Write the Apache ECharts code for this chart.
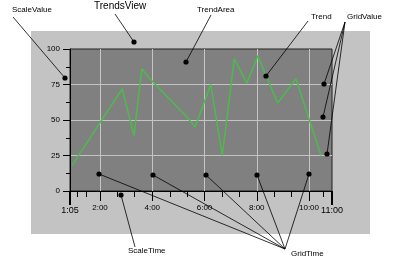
<!DOCTYPE html>
<html>
<head>
<meta charset="utf-8">
<script src="https://cdn.jsdelivr.net/npm/echarts@6/dist/echarts.min.js"></script>
<style>
html,body{margin:0;padding:0;background:#fff;}
#chart{width:400px;height:264px;}
</style>
</head>
<body>
<div id="chart"></div>
<script>
// ---- data ----
// time of day in hours (decimal)
const trendTimes  = [0.93, 2.85, 3.30, 3.60, 3.91, 5.38, 5.64, 6.24, 6.68, 7.14, 7.62, 8.04, 8.80, 9.50, 10.46];
const trendValues = [18, 72, 39, 86, 79, 51, 45, 75, 25, 93, 76, 95, 62, 79, 25];

const xMajorTicks  = [2, 4, 6, 8, 10];
const xMajorLabels = ['2:00', '4:00', '6:00', '8:00', '10:00'];
const xMinorTicks  = [1.13, 1.49, 2.67, 3.33, 4.67, 5.33, 6.67, 7.33, 8.67, 9.33, 10.54];
const xEndLabels   = ['1:05', '11:00'];
const xMin = 0.852, xMax = 10.88;

const yMin = 0, yMax = 100, yStep = 25;

const chart = echarts.init(document.getElementById('chart'), null, {renderer: 'canvas'});
const font = 'Liberation Sans, Arial, sans-serif';

function txt(text, x, y, size) {
  return {type: 'text', z: 100, left: x, top: y - size * 0.6,
    style: {text: text, fill: '#000', font: size + 'px ' + font}};
}
function seg(x1, y1, x2, y2) {
  return {type: 'line', z: 100, shape: {x1: x1, y1: y1, x2: x2, y2: y2},
    style: {stroke: '#000', lineWidth: 0.8}};
}
function dot(x, y) {
  return {type: 'circle', z: 101, shape: {cx: x, cy: y, r: 2.6}, style: {fill: '#000'}};
}

const ann = [
  {type: 'rect', z: -100, shape: {x: 31, y: 31, width: 339, height: 203}, style: {fill: '#c3c3c3'}},
  txt('ScaleValue', 12, 11, 8), seg(13, 17, 65, 78), dot(65, 78),
  txt('TrendsView', 94, 7, 10), seg(115, 14, 134, 42), dot(134, 42),
  txt('TrendArea', 197, 11, 8), seg(211, 15, 186, 62), dot(186, 62),
  txt('Trend', 311, 18, 8), seg(308, 21, 266, 76), dot(266, 76),
  txt('GridValue', 347, 18, 8),
  seg(345, 22, 324, 84), dot(324, 84),
  seg(345, 22, 323, 117), dot(323, 117),
  seg(345, 22, 327, 154), dot(327, 154),
  txt('ScaleTime', 128, 252, 8), seg(135, 247, 121, 195), dot(121, 195),
  txt('GridTime', 291, 255, 8),
  seg(285, 249, 99, 174), dot(99, 174),
  seg(285, 249, 153, 175), dot(153, 175),
  seg(285, 249, 206, 175), dot(206, 175),
  seg(285, 249, 257, 175), dot(257, 175),
  seg(285, 249, 309, 174), dot(309, 174)
];

function fmtMajor(v) {
  const i = xMajorTicks.findIndex(t => Math.abs(t - v) < 1e-6);
  return i >= 0 ? xMajorLabels[i] : '';
}
function fmtEnd(v) {
  return Math.abs(v - xMin) < 0.01 ? xEndLabels[0] : xEndLabels[1];
}

chart.setOption({
  animation: false,
  textStyle: {fontFamily: font},
  grid: {left: 70, top: 49, right: 68, bottom: 73, containLabel: false, outerBoundsMode: 'none',
         show: true, backgroundColor: '#808080', borderColor: '#202020', borderWidth: 1},
  graphic: {elements: ann},
  xAxis: [
    {type: 'value', min: xMin, max: xMax, position: 'bottom',
     axisLine: {show: true, onZero: false, lineStyle: {color: '#000', width: 1}},
     axisTick: {show: true, customValues: xMajorTicks, length: 10, lineStyle: {color: '#000'}},
     axisLabel: {show: true, customValues: xMajorTicks, formatter: fmtMajor, fontSize: 8, color: '#000', margin: 13},
     splitLine: {show: true, lineStyle: {color: '#c4c4c4', width: 1}}},
    {type: 'value', min: xMin, max: xMax, position: 'bottom',
     axisLine: {show: false},
     axisTick: {show: true, customValues: xMinorTicks, length: 6, lineStyle: {color: '#000'}},
     axisLabel: {show: false},
     splitLine: {show: false}},
    {type: 'value', min: xMin, max: xMax, position: 'bottom',
     axisLine: {show: false},
     axisTick: {show: true, customValues: [xMin, xMax], length: 14, lineStyle: {color: '#000', width: 2}},
     axisLabel: {show: true, customValues: [xMin, xMax], formatter: fmtEnd, fontSize: 9, color: '#000', margin: 15},
     splitLine: {show: false}}
  ],
  yAxis: {
    type: 'value', min: yMin, max: yMax, interval: yStep,
    axisLine: {show: true, onZero: false, lineStyle: {color: '#000', width: 1}},
    axisTick: {show: true, length: 7, lineStyle: {color: '#000'}},
    minorTick: {show: true, splitNumber: 2, length: 4, lineStyle: {color: '#000'}},
    axisLabel: {fontSize: 8, color: '#000', margin: 10},
    splitLine: {show: true, showMinLine: false, showMaxLine: false, lineStyle: {color: '#c4c4c4', width: 1}}
  },
  series: [{
    type: 'line', xAxisIndex: 0, yAxisIndex: 0,
    data: trendTimes.map((t, i) => [t, trendValues[i]]),
    showSymbol: false, symbol: 'none',
    lineStyle: {color: '#4cbb4c', width: 1.5}
  }]
});
</script>
</body>
</html>
